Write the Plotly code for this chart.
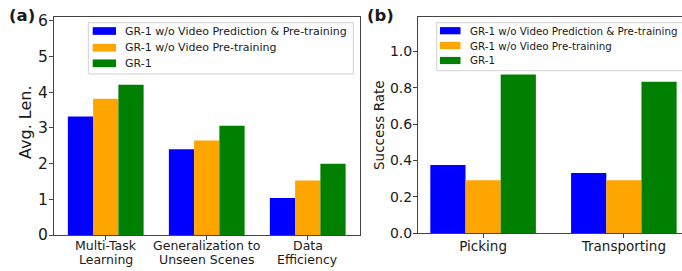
import plotly.graph_objects as go

# ---- data ----
series_names = ["GR-1 w/o Video Prediction & Pre-training", "GR-1 w/o Video Pre-training", "GR-1"]
colors = ["#0000ff", "#ffa500", "#008000"]

cats_a = ["Multi-Task Learning", "Generalization to Unseen Scenes", "Data Efficiency"]
cat_a_lines = [["Multi-Task", "Learning"], ["Generalization to", "Unseen Scenes"], ["Data", "Efficiency"]]
vals_a_noboth = [3.32, 2.40, 1.04]
vals_a_novideo = [3.82, 2.65, 1.53]
vals_a_gr1 = [4.21, 3.06, 2.00]

cats_b = ["Picking", "Transporting"]
vals_b_noboth = [0.375, 0.33]
vals_b_novideo = [0.29, 0.29]
vals_b_gr1 = [0.873, 0.833]

yticks_a = [0, 1, 2, 3, 4, 5, 6]
yticks_b = [0.0, 0.2, 0.4, 0.6, 0.8, 1.0]
yticklabels_b = ["0.0", "0.2", "0.4", "0.6", "0.8", "1.0"]
ytitle_a = "Avg. Len."
ytitle_b = "Success Rate"

FONT = "DejaVu Sans"
TXT = "#1a1a1a"
W, H = 682, 271


def px_x(v):
    return v / W


def px_y(v):
    return 1 - v / H


fig = go.Figure()

series_a = [vals_a_noboth, vals_a_novideo, vals_a_gr1]
series_b = [vals_b_noboth, vals_b_novideo, vals_b_gr1]

for i in range(3):
    fig.add_trace(go.Bar(x=cats_a, y=series_a[i], name=series_names[i],
                         marker=dict(color=colors[i], line=dict(width=0)),
                         xaxis="x", yaxis="y", showlegend=False, offsetgroup=str(i)))
    fig.add_trace(go.Bar(x=cats_b, y=series_b[i], name=series_names[i],
                         marker=dict(color=colors[i], line=dict(width=0)),
                         xaxis="x2", yaxis="y2", showlegend=False, offsetgroup=str(i)))

axis_common = dict(showgrid=False, zeroline=False, showline=True, linecolor="#444", linewidth=1,
                   mirror=True, ticks="outside", ticklen=4, tickcolor="#444", automargin=False)

shapes = []
annotations = []


def add_legend(box, patch_x, text_x, rows, font_size, patch_h):
    x0, y0, x1, y1 = box
    shapes.append(dict(type="rect", xref="paper", yref="paper",
                       x0=px_x(x0), x1=px_x(x1), y0=px_y(y1), y1=px_y(y0),
                       line=dict(color="#d0d0d0", width=1), fillcolor="rgba(255,255,255,0.8)",
                       layer="above"))
    for i, yc in enumerate(rows):
        shapes.append(dict(type="rect", xref="paper", yref="paper",
                           x0=px_x(patch_x[0]), x1=px_x(patch_x[1]),
                           y0=px_y(yc + patch_h / 2), y1=px_y(yc - patch_h / 2),
                           line=dict(width=0), fillcolor=colors[i], layer="above"))
        annotations.append(dict(text=series_names[i], xref="paper", yref="paper",
                                x=px_x(text_x), y=px_y(yc), xanchor="left", yanchor="middle",
                                showarrow=False, borderpad=0,
                                font=dict(family=FONT, size=font_size, color=TXT)))


add_legend((88.3, 22.7, 353.3, 74.0), (92.7, 116.0), 124.0, [31.0, 47.7, 63.3], 11, 7.7)
add_legend((436.7, 22.7, 700.0, 70.7), (440.0, 460.5), 469.0, [30.7, 45.5, 60.5], 10.3, 7.2)

# two-line category labels for panel (a), placed on the category axis
for ci, lines in enumerate(cat_a_lines):
    for li, t in enumerate(lines):
        annotations.append(dict(text=t, xref="x", yref="paper", x=cats_a[ci],
                                y=px_y(245.5 + li * 13.8), xanchor="center", yanchor="middle",
                                showarrow=False, borderpad=0,
                                font=dict(family=FONT, size=12.5, color=TXT)))

# axis titles
annotations.append(dict(text=ytitle_a, x=px_x(25.5), y=px_y(122.5), xref="paper", yref="paper",
                        xanchor="center", yanchor="middle", showarrow=False, borderpad=0,
                        textangle=-90, font=dict(family=FONT, size=16, color=TXT)))
annotations.append(dict(text=ytitle_b, x=px_x(379), y=px_y(125), xref="paper", yref="paper",
                        xanchor="center", yanchor="middle", showarrow=False, borderpad=0,
                        textangle=-90, font=dict(family=FONT, size=13.5, color=TXT)))

annotations.append(dict(text="<b>(a)</b>", x=px_x(22), y=px_y(15.5), xref="paper", yref="paper",
                        xanchor="center", yanchor="middle", showarrow=False, borderpad=0,
                        font=dict(family=FONT, size=16.5, color=TXT)))
annotations.append(dict(text="<b>(b)</b>", x=px_x(381), y=px_y(15.5), xref="paper", yref="paper",
                        xanchor="center", yanchor="middle", showarrow=False, borderpad=0,
                        font=dict(family=FONT, size=16.5, color=TXT)))

fig.update_layout(
    width=W, height=H, autosize=False,
    margin=dict(l=0, r=0, t=0, b=0, pad=0),
    paper_bgcolor="white", plot_bgcolor="white",
    barmode="group", bargap=0.25, bargroupgap=0,
    font=dict(family=FONT, color=TXT),
    showlegend=False,
    xaxis=dict(domain=[54 / W, 359.5 / W], range=[-0.5125, 2.5125], anchor="y",
               showticklabels=False, **axis_common),
    yaxis=dict(domain=[1 - 235 / H, 1 - 17 / H], range=[0, 6.11], anchor="x",
               tickvals=yticks_a, ticklabelstandoff=-2,
               tickfont=dict(family=FONT, color=TXT, size=15.5), **axis_common),
    xaxis2=dict(domain=[418 / W, 1.0], range=[-0.4625, 1.413], anchor="y2",
                tickfont=dict(family=FONT, color=TXT, size=13.5), ticklabelstandoff=-3,
                **axis_common),
    yaxis2=dict(domain=[1 - 233 / H, 1 - 17 / H], range=[0, 1.19], anchor="x2",
                tickvals=yticks_b, ticktext=yticklabels_b, ticklabelstandoff=-2,
                tickfont=dict(family=FONT, color=TXT, size=14), **axis_common),
    shapes=shapes,
    annotations=annotations,
)

fig.write_html("out.html", config={"displayModeBar": False},
               post_script="document.body.style.margin='0';document.body.style.overflow='hidden';")
